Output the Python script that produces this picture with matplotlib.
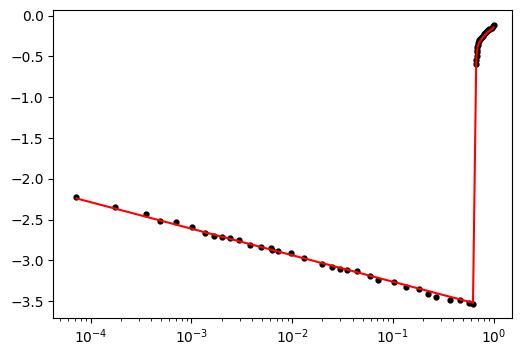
import matplotlib
matplotlib.use("Agg")
import matplotlib.pyplot as plt

# observed data (x on log scale)
data_x = [7.2e-5, 1.75e-4, 3.54e-4, 4.91e-4, 7.08e-4, 1.007e-3, 1.365e-3, 1.686e-3,
          2.03e-3, 2.44e-3, 2.94e-3, 3.85e-3, 4.96e-3, 6.14e-3, 6.37e-3, 7.31e-3,
          9.70e-3, 1.324e-2, 2.00e-2, 2.46e-2, 3.01e-2, 3.54e-2, 4.39e-2, 5.94e-2,
          7.14e-2, 0.1037, 0.1355, 0.1837, 0.2258, 0.2706, 0.3667, 0.459, 0.564, 0.625,
          0.672, 0.674, 0.677, 0.680, 0.684, 0.688, 0.694, 0.700, 0.710, 0.720, 0.730,
          0.745, 0.760, 0.780, 0.800, 0.820, 0.850, 0.870, 0.890, 0.910, 0.930, 0.955,
          0.980, 1.000]
data_y = [-2.222, -2.344, -2.427, -2.516, -2.534, -2.586, -2.663, -2.696,
          -2.708, -2.723, -2.751, -2.810, -2.831, -2.852, -2.876, -2.882,
          -2.904, -2.969, -3.042, -3.082, -3.104, -3.118, -3.128, -3.192,
          -3.243, -3.265, -3.326, -3.348, -3.415, -3.451, -3.483, -3.485, -3.520, -3.534,
          -0.591, -0.540, -0.490, -0.450, -0.420, -0.385, -0.355, -0.335, -0.315, -0.300, -0.288,
          -0.272, -0.258, -0.243, -0.228, -0.215, -0.198, -0.188, -0.178, -0.168, -0.158, -0.146,
          -0.132, -0.115]

# fitted model curve
fit_x = [7.2e-5, 0.625, 0.672, 0.677, 0.684, 0.692, 0.700, 0.715, 0.730, 0.750,
         0.780, 0.810, 0.850, 0.890, 0.930, 0.970, 1.000]
fit_y = [-2.240, -3.520, -0.600, -0.500, -0.440, -0.400, -0.370, -0.340, -0.318, -0.295,
         -0.268, -0.245, -0.220, -0.198, -0.178, -0.160, -0.145]

fig = plt.figure(figsize=(5.28, 3.56), dpi=100)
ax = fig.add_axes([0.101, 0.107, 0.869, 0.865])
ax.plot(data_x, data_y, 'k.', markersize=7)
ax.plot(fit_x, fit_y, 'r-', linewidth=1.5)
ax.set_xscale('log')
ax.set_xlim(4.25e-5, 1.53)
ax.set_ylim(-3.705, 0.07)
fig.savefig("out.png", dpi=100)
